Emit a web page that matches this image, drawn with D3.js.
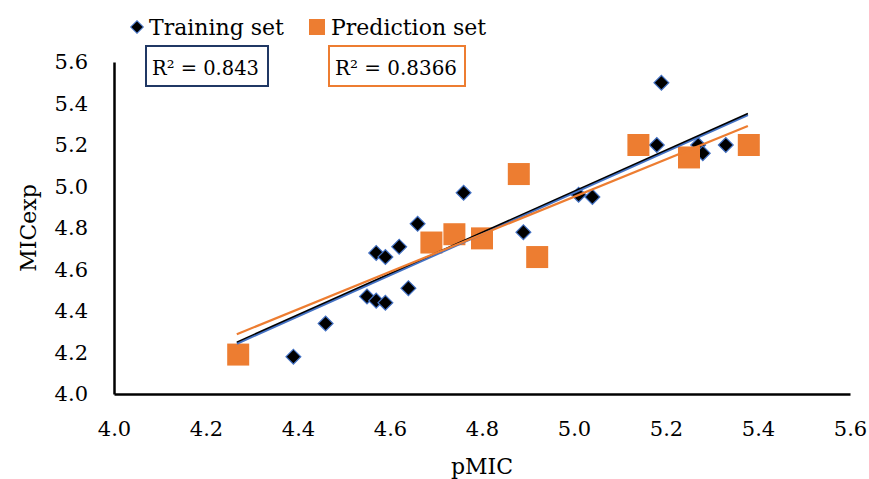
<!DOCTYPE html>
<html lang="en">
<head>
<meta charset="UTF-8">
<title>pMIC vs MICexp</title>
<script src="https://d3js.org/d3.v7.min.js"></script>
<style>
    body { margin: 0; background: #fff; }
    text { font-family: 'DejaVu Serif', serif; fill: #000; }
</style>
</head>
<body>
<script>

    const width  = 869;
    const height = 479;

    // training set (pMIC, MICexp)
    const trainX = [4.39, 4.46, 4.55, 4.57, 4.59, 4.57, 4.59, 4.62, 4.64, 4.66, 4.76, 4.89, 5.01, 5.04, 5.19, 5.18, 5.27, 5.28, 5.33];
    const trainY = [4.18, 4.34, 4.47, 4.45, 4.44, 4.68, 4.66, 4.71, 4.51, 4.82, 4.97, 4.78, 4.96, 4.95, 5.50, 5.20, 5.20, 5.16, 5.20];

    // prediction set
    const predX = [4.27, 4.69, 4.74, 4.80, 4.88, 4.92, 5.14, 5.25, 5.38];
    const predY = [4.19, 4.73, 4.77, 4.75, 5.06, 4.66, 5.20, 5.14, 5.20];

    // trend lines, endpoints
    const trendX     = [4.267, 5.378];
    const trainTrend = [4.243, 5.345];
    const allTrend   = [4.250, 5.352];
    const predTrend  = [4.288, 5.292];

    const ticks = [4.0, 4.2, 4.4, 4.6, 4.8, 5.0, 5.2, 5.4, 5.6];
    const r2Train = "R² = 0.843";
    const r2Pred  = "R² = 0.8366";

    const x = d3.scaleLinear().domain([4.0, 5.6]).range([114, 850]);
    const y = d3.scaleLinear().domain([4.0, 5.6]).range([394, 62]);

    const svg = d3.select("body").append("svg")
            .attr("width", width)
            .attr("height", height);

    // axes
    const xAxis = d3.axisBottom(x).tickValues(ticks).tickFormat(d3.format(".1f")).tickSize(0).tickPadding(30);
    const yAxis = d3.axisLeft(y).tickValues(ticks).tickFormat(d3.format(".1f")).tickSize(0).tickPadding(26);

    const gx = svg.append("g").attr("transform", "translate(0," + y(4.0) + ")").call(xAxis);
    const gy = svg.append("g").attr("transform", "translate(" + x(4.0) + ",0)").call(yAxis);
    [gx, gy].forEach(g => {
        g.attr("font-family", "'DejaVu Serif', serif").attr("font-size", 21);
        g.select(".domain").attr("stroke", "#000").attr("stroke-width", 2.5);
    });
    gx.selectAll(".tick text").attr("dy", "0.55em");

    svg.append("text").text("pMIC")
            .attr("x", 482).attr("y", 474)
            .attr("text-anchor", "middle")
            .style("font-size", "22px");
    svg.append("text").text("MICexp")
            .attr("transform", "translate(36,228) rotate(-90)")
            .attr("text-anchor", "middle")
            .style("font-size", "22px");

    // points
    const train = trainX.map((d, i) => [d, trainY[i]]);
    const pred  = predX.map((d, i) => [d, predY[i]]);

    const diamond = d3.symbol().type(d3.symbolSquare).size(110);

    svg.append("g").selectAll("path")
            .data(train)
            .enter()
            .append("path")
            .attr("d", diamond)
            .attr("transform", d => "translate(" + [x(d[0]), y(d[1])] + ") rotate(45)")
            .attr("fill", "#000")
            .attr("stroke", "#4472c4")
            .attr("stroke-width", 1.2);

    svg.append("g").selectAll("rect")
            .data(pred)
            .enter()
            .append("rect")
            .attr("x", d => x(d[0]) - 11)
            .attr("y", d => y(d[1]) - 11)
            .attr("width", 22)
            .attr("height", 22)
            .attr("fill", "#ed7d31");

    // trend lines
    const line = d3.line().x(d => x(d[0])).y(d => y(d[1]));
    const addTrend = (vals, color, w) => svg.append("path")
            .attr("d", line(trendX.map((d, i) => [d, vals[i]])))
            .attr("fill", "none")
            .attr("stroke", color)
            .attr("stroke-width", w);

    addTrend(trainTrend, "#4472c4", 2.5);
    addTrend(allTrend, "#000", 1.5);
    addTrend(predTrend, "#ed7d31", 2.2);

    // legend
    svg.append("path")
            .attr("d", d3.symbol().type(d3.symbolSquare).size(80))
            .attr("transform", "translate(137,27) rotate(45)")
            .attr("fill", "#000")
            .attr("stroke", "#4472c4")
            .attr("stroke-width", 1);
    svg.append("text").text("Training set")
            .attr("x", 149).attr("y", 35)
            .style("font-size", "22px");
    svg.append("rect")
            .attr("x", 309).attr("y", 19)
            .attr("width", 16).attr("height", 16)
            .attr("fill", "#ed7d31");
    svg.append("text").text("Prediction set")
            .attr("x", 331).attr("y", 35)
            .style("font-size", "22px");

    // R² boxes
    svg.append("rect")
            .attr("x", 146).attr("y", 46)
            .attr("width", 122).attr("height", 40)
            .attr("fill", "#fff")
            .attr("stroke", "#203864")
            .attr("stroke-width", 2);
    svg.append("text").text(r2Train)
            .attr("x", 152).attr("y", 75)
            .attr("textLength", 107)
            .attr("lengthAdjust", "spacingAndGlyphs")
            .style("font-size", "21px");
    svg.append("rect")
            .attr("x", 329).attr("y", 46)
            .attr("width", 136).attr("height", 40)
            .attr("fill", "#fff")
            .attr("stroke", "#ed7d31")
            .attr("stroke-width", 2);
    svg.append("text").text(r2Pred)
            .attr("x", 335).attr("y", 75)
            .attr("textLength", 122)
            .attr("lengthAdjust", "spacingAndGlyphs")
            .style("font-size", "21px");

</script>
</body>
</html>
